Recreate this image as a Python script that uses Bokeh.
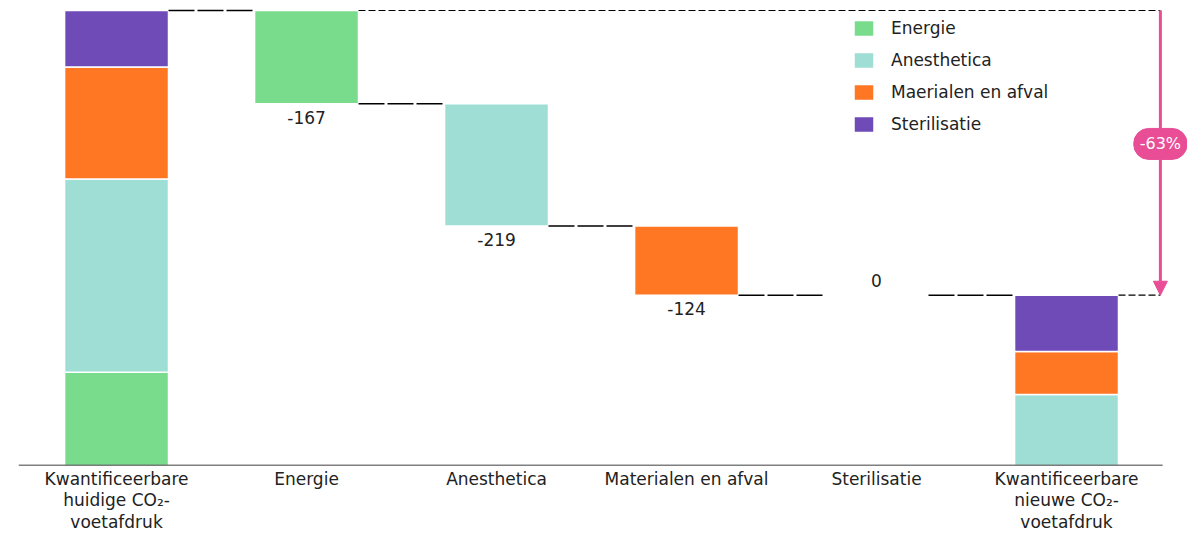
from bokeh.plotting import figure
from bokeh.models import FixedTicker, Legend, LegendItem, Arrow, NormalHead, Range1d, Label
from bokeh.core.properties import value
from bokeh.embed import file_html
from bokeh.resources import INLINE

# ---------------- data ----------------
categories = [
    "Kwantificeerbare\nhuidige CO₂-\nvoetafdruk",
    "Energie",
    "Anesthetica",
    "Materialen en afval",
    "Sterilisatie",
    "Kwantificeerbare\nnieuwe CO₂-\nvoetafdruk",
]
series = ["Energie", "Anesthetica", "Maerialen en afval", "Sterilisatie"]
current = [167, 346, 201, 101]
changes = [-167, -219, -124, 0]
change_labels = ["-167", "-219", "-124", "0"]
pct_label = "-63%"

# ---------------- style ----------------
colors = ["#78DC8C", "#9FDED4", "#FF7623", "#6F4BB8"]
PINK = "#E84D96"
TXT = "#222222"
FONT = "DejaVu Sans"
FS = "17px"
W = 0.547

new = [c + d for c, d in zip(current, changes)]
total = sum(current)
new_total = sum(new)
xs = [i + 0.5 for i in range(len(categories))]
x_first, x_last = xs[0], xs[-1]
x_arrow = 5.994

p = figure(
    width=1187, height=534,
    x_range=Range1d(-0.016, 6.1367),
    y_range=Range1d(0, total * 1.0044),
    output_backend="svg", toolbar_location=None,
    y_axis_location=None,
    min_border_left=18, min_border_right=0, min_border_top=8, min_border_bottom=60,
)
p.outline_line_color = None
p.xgrid.grid_line_color = None
p.ygrid.grid_line_color = None
p.background_fill_color = "white"
p.border_fill_color = "white"

# stacked start / end bars
stack_renderers = []
b_first, b_last = 0, 0
for i, s in enumerate(series):
    r = p.vbar(
        x=[x_first, x_last],
        bottom=[b_first, b_last],
        top=[b_first + current[i], b_last + new[i]],
        width=W, fill_color=colors[i], line_color="white", line_width=1.5,
    )
    stack_renderers.append(r)
    b_first += current[i]
    b_last += new[i]

# change bars
levels = [total]
for c in changes:
    levels.append(levels[-1] + c)

for i, c in enumerate(changes):
    if c != 0:
        p.vbar(x=[xs[i + 1]], top=[levels[i]], bottom=[levels[i + 1]], width=W,
               fill_color=colors[i], line_color="white", line_width=1.5)

# connector segments between bars
seg_x0 = [xs[i] + W / 2 for i in range(len(categories) - 1)]
seg_x1 = [xs[i + 1] - W / 2 for i in range(len(categories) - 1)]
seg_y = [levels[i] for i in range(len(categories) - 1)]
p.segment(x0=seg_x0, y0=seg_y, x1=seg_x1, y1=seg_y, line_color="black",
          line_width=1.6, line_dash="26 3")

# reference dashed lines to arrow
p.segment(x0=[xs[1] + W / 2, xs[-1] + W / 2], y0=[total, new_total],
          x1=[x_arrow, x_arrow], y1=[total, new_total],
          line_color="black", line_width=1.2, line_dash="7 3")

# baseline
p.segment(x0=[-0.016], y0=[0], x1=[6.006], y1=[0], line_color="black", line_width=1.5)

# change labels
neg_x = [xs[i + 1] for i, c in enumerate(changes) if c != 0]
neg_y = [levels[i + 1] for i, c in enumerate(changes) if c != 0]
neg_t = [change_labels[i] for i, c in enumerate(changes) if c != 0]
p.text(x=neg_x, y=neg_y, text=neg_t, text_align="center", text_baseline="top",
       y_offset=7, text_color=TXT, text_font=value(FONT), text_font_size=FS)
z_x = [xs[i + 1] for i, c in enumerate(changes) if c == 0]
z_y = [levels[i + 1] for i, c in enumerate(changes) if c == 0]
z_t = [change_labels[i] for i, c in enumerate(changes) if c == 0]
p.text(x=z_x, y=z_y, text=z_t, text_align="center", text_baseline="bottom",
       y_offset=-8, text_color=TXT, text_font=value(FONT), text_font_size=FS)

# arrow and percentage bubble
p.add_layout(Arrow(end=NormalHead(size=14, fill_color=PINK, line_color=PINK),
                   x_start=x_arrow, y_start=total, x_end=x_arrow, y_end=new_total,
                   line_color=PINK, line_width=3))
mid = (total + new_total) / 2 + 16
p.add_layout(Label(x=x_arrow, y=mid, text=pct_label, text_align="center",
                   text_baseline="middle", text_color="white", text_font=FONT,
                   text_font_size="16px", background_fill_color=PINK,
                   border_line_color=PINK, border_radius=15, padding=(6, 6)))

# x axis
ax = p.xaxis[0]
ax.ticker = FixedTicker(ticks=xs)
ax.major_label_overrides = {x: lab for x, lab in zip(xs, categories)}
ax.axis_line_color = None
ax.major_tick_line_color = None
ax.minor_tick_line_color = None
ax.major_tick_out = 0
ax.major_tick_in = 0
ax.major_label_standoff = 3
ax.major_label_text_font = FONT
ax.major_label_text_font_size = FS
ax.major_label_text_color = TXT
ax.major_label_text_line_height = 1.08

# legend
legend = Legend(
    items=[LegendItem(label=s, renderers=[r]) for s, r in zip(series, stack_renderers)],
    location=(833, 331), orientation="vertical",
    glyph_width=25, glyph_height=20, spacing=12, label_standoff=15,
    padding=0, margin=0, border_line_color=None, background_fill_alpha=0,
    label_text_font=FONT, label_text_font_size=FS, label_text_color=TXT,
)
p.add_layout(legend)

open("out.html", "w").write(file_html(p, INLINE))
